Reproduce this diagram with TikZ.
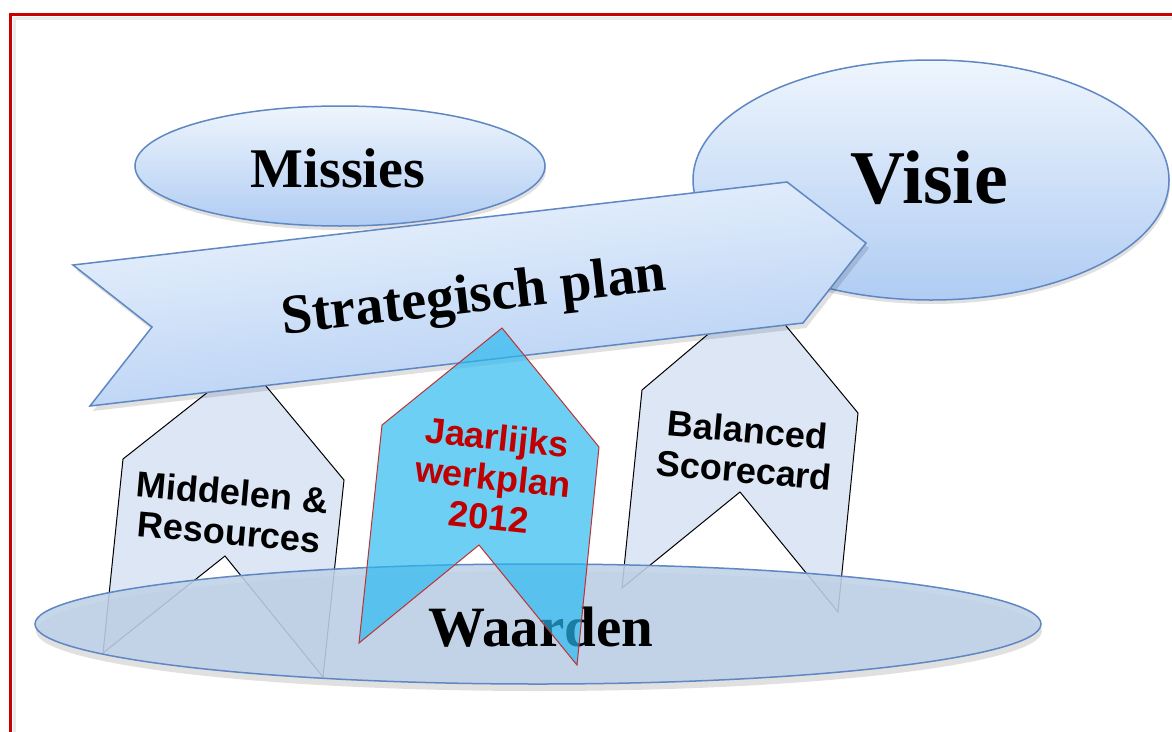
\documentclass[tikz,border=0pt]{standalone}
\usepackage{fontspec}
\setmainfont{Liberation Serif}
\newfontfamily\sansb{Liberation Sans}
\usetikzlibrary{shapes.geometric}
\definecolor{frameRed}{RGB}{200,0,0}
\definecolor{ellTop}{RGB}{238,245,253}
\definecolor{ellBot}{RGB}{176,204,243}
\definecolor{ellLine}{RGB}{95,135,195}
\definecolor{waardFill}{RGB}{192,210,232}
\definecolor{chevFill}{RGB}{220,230,244}
\definecolor{midFill}{RGB}{40,185,240}
\definecolor{midLine}{RGB}{190,50,50}
\definecolor{textRed}{RGB}{192,0,0}
\begin{document}
\begin{tikzpicture}[x=1pt,y=-1pt,
  bubble/.style={ellipse, draw=ellLine, line width=1.5pt, top color=ellTop, bottom color=ellBot, inner sep=0pt},
  softshadow/.style={fill=black, opacity=0.12},
  sidechev/.style={draw=black, line width=1pt, fill=chevFill, line join=miter},
  midchev/.style={draw=midLine, line width=1pt, fill=midFill, fill opacity=0.68},
  bigserif/.style={font=\bfseries\fontsize{56}{60}\selectfont},
  sanslabel/.style={font=\sansb\bfseries\fontsize{36}{40}\selectfont, align=center, inner sep=0pt},
]
\useasboundingbox (0,0) rectangle (1172,731);
\fill[white] (0,0) rectangle (1172,731);
% frame
\draw[black!8, line width=3pt] (14,745) -- (14,18) -- (1180,18);
\draw[frameRed, line width=3pt] (10,745) -- (10,14) -- (1180,14);

% Missies and Visie
\fill[softshadow] (341,170) ellipse [x radius=205, y radius=60];
\node[bubble, minimum width=410pt, minimum height=120pt] (missies) at (340,166) {};
\node[bigserif] (missiesT) at (338,168) {Missies};
\fill[softshadow] (932,184) ellipse [x radius=238, y radius=120];
\node[bubble, minimum width=476pt, minimum height=240pt] (visie) at (931,180) {};
\node[font=\bfseries\fontsize{76}{80}\selectfont] (visieT) at (929,178) {Visie};

% side chevrons
\path[sidechev] (246,362) -- (344,480) -- (323,677) -- (225,556) -- (103,653) -- (123,459) -- cycle;
\node[sanslabel, rotate=-5] (middelen) at (231,512) {Middelen \&\\Resources};
\path[sidechev] (758,292) -- (858,413) -- (838,612) -- (740,492) -- (622,588) -- (642,390) -- cycle;
\node[sanslabel, rotate=-5] (balanced) at (746,450) {Balanced\\Scorecard};

% Strategisch plan arrow
\fill[softshadow] (76,270) -- (790,187) -- (869,248) -- (806,328) -- (93,411) -- (155,332) -- cycle;
\path[draw=ellLine, line width=1.5pt, line join=miter, top color=ellTop, bottom color=ellBot, shading angle=6.5]
  (73,265) -- (787,182) -- (866,243) -- (803,323) -- (90,406) -- (152,327) -- cycle;
\node[bigserif, rotate=6.5] (strat) at (474,299) {Strategisch plan};

% Waarden
\fill[softshadow] (539,631) ellipse [x radius=503, y radius=60];
\node[ellipse, draw=ellLine, line width=1.5pt, fill=waardFill, fill opacity=0.88, text opacity=1,
  minimum width=1006pt, minimum height=120pt, inner sep=0pt] (waarden) at (538,624) {};
\node[font=\bfseries\fontsize{57}{60}\selectfont] (waardenT) at (541,627) {Waarden};

% Jaarlijks werkplan chevron
\path[midchev] (502,328) -- (599,447) -- (577,665) -- (479,545) -- (359,643) -- (382,425) -- cycle;
\node[sanslabel, text=textRed, rotate=-6] (jaar) at (493,477) {Jaarlijks\\werkplan\\2012};
\end{tikzpicture}
\end{document}
